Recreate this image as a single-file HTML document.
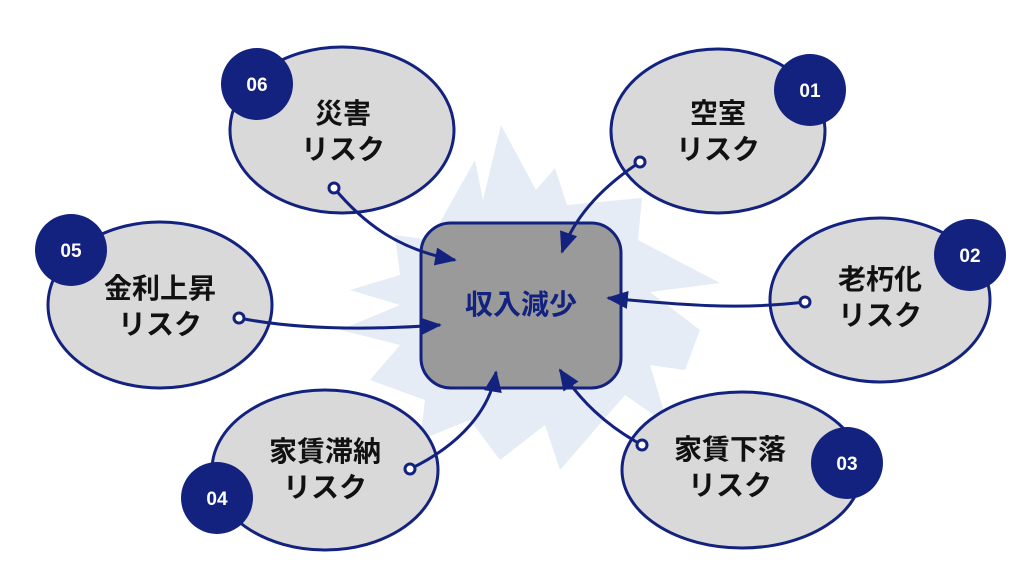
<!DOCTYPE html>
<html><head><meta charset="utf-8"><style>
html,body{margin:0;padding:0;background:#fff;}
svg{display:block;}
text{font-family:"Liberation Sans","Noto Sans CJK JP",sans-serif;font-weight:bold;}
</style></head><body>
<svg width="1024" height="567" viewBox="0 0 1024 567" xmlns="http://www.w3.org/2000/svg">
<defs>
<marker id="a" viewBox="0 0 12 10" refX="11" refY="5" markerWidth="22" markerHeight="18" markerUnits="userSpaceOnUse" orient="auto"><path d="M0,0 L12,5 L0,10 Z" fill="#13227f"/></marker>
</defs>
<polygon fill="#e5ecf6" points="501,125 536,190 555,168 567,205 642,198 638,240 720,283 650,292 700,330 685,370 650,365 668,425 625,395 560,470 545,425 500,460 470,420 420,440 425,400 370,380 400,345 340,330 400,305 350,290 400,275 395,235 430,240 475,160 483,200"/>
<g stroke="#13227f" stroke-width="3" fill="#d9d9d9">
<ellipse cx="342" cy="130" rx="112" ry="83"/>
<ellipse cx="718" cy="131" rx="107" ry="82"/>
<ellipse cx="160" cy="305" rx="112" ry="83"/>
<ellipse cx="880" cy="300" rx="110" ry="82"/>
<ellipse cx="325" cy="470" rx="113" ry="80"/>
<ellipse cx="742" cy="470" rx="120" ry="78"/>
</g>
<rect x="421" y="223" width="200" height="165" rx="30" fill="#9a9a9a" stroke="#13227f" stroke-width="3"/>
<g fill="none" stroke="#13227f" stroke-width="3" marker-end="url(#a)">
<path d="M334,188 C365,225 400,250 455,260"/>
<path d="M640,162 C605,185 575,215 562,252"/>
<path d="M239,318 C300,330 370,330 440,325"/>
<path d="M805,302 C740,310 680,305 608,298"/>
<path d="M410,469 C460,445 490,410 496,372"/>
<path d="M642,445 C605,425 580,400 560,370"/>
</g>
<g fill="#fff" stroke="#13227f" stroke-width="3">
<circle cx="334" cy="188" r="5"/><circle cx="640" cy="162" r="5"/><circle cx="239" cy="318" r="5"/>
<circle cx="805" cy="302" r="5"/><circle cx="410" cy="469" r="5"/><circle cx="642" cy="445" r="5"/>
</g>
<g fill="#13227f">
<circle cx="257" cy="84" r="36"/><circle cx="810" cy="90" r="36"/><circle cx="71" cy="250" r="36"/>
<circle cx="970" cy="255" r="36"/><circle cx="217" cy="498" r="36"/><circle cx="847" cy="463" r="36"/>
</g>
<g fill="#fff" font-size="19" text-anchor="middle">
<text x="257" y="91">06</text><text x="810" y="97">01</text><text x="71" y="257">05</text>
<text x="970" y="262">02</text><text x="217" y="505">04</text><text x="847" y="470">03</text>
</g>
<g fill="#111" font-size="28" text-anchor="middle">
<text x="343" y="123">災害</text><text x="343" y="159">リスク</text>
<text x="718" y="123">空室</text><text x="718" y="159">リスク</text>
<text x="160" y="298">金利上昇</text><text x="160" y="334">リスク</text>
<text x="880" y="289">老朽化</text><text x="880" y="325">リスク</text>
<text x="325" y="461">家賃滞納</text><text x="325" y="497">リスク</text>
<text x="730" y="459">家賃下落</text><text x="730" y="495">リスク</text>
</g>
<text x="521" y="314" fill="#13227f" font-size="28" text-anchor="middle">収入減少</text>
</svg>
</body></html>
